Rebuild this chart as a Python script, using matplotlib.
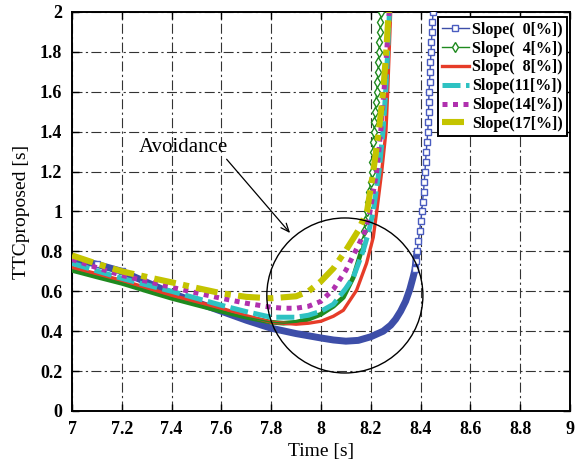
import matplotlib
matplotlib.use("Agg")
import matplotlib.pyplot as plt
from matplotlib.patches import Ellipse
import numpy as np

plt.rcParams['font.family'] = ['Liberation Serif', 'DejaVu Serif']

# ---- data: time [s] and TTC [s] per road slope ----
t_s0 = [7.00, 7.10, 7.20, 7.30, 7.40, 7.50, 7.60, 7.70, 7.80, 7.90, 8.00, 8.05,
        8.10, 8.15, 8.20, 8.25, 8.28, 8.30, 8.32, 8.34, 8.357, 8.37, 8.378,
        8.381, 8.386, 8.391, 8.396, 8.401, 8.405, 8.408, 8.412, 8.415, 8.418,
        8.420, 8.423, 8.426, 8.429, 8.431, 8.432, 8.433, 8.434, 8.436, 8.438,
        8.440, 8.442, 8.444, 8.446, 8.448, 8.450, 8.452]
v_s0 = [0.765, 0.735, 0.700, 0.645, 0.590, 0.545, 0.500, 0.455, 0.415, 0.388,
        0.366, 0.356, 0.350, 0.354, 0.372, 0.400, 0.430, 0.460, 0.500, 0.550,
        0.610, 0.670, 0.710,
        0.75, 0.80, 0.85, 0.90, 0.95, 1.00, 1.05, 1.10, 1.15, 1.20, 1.25, 1.30,
        1.35, 1.40, 1.45, 1.50, 1.55, 1.60, 1.65, 1.70, 1.75, 1.80, 1.85, 1.90,
        1.95, 2.00, 2.05]

t_s4 = [7.00, 7.10, 7.20, 7.30, 7.40, 7.50, 7.60, 7.70, 7.80, 7.85, 7.90, 7.95,
        8.00, 8.05, 8.09, 8.13, 8.163,
        8.167, 8.173, 8.178, 8.183, 8.189, 8.194, 8.199, 8.204, 8.206, 8.208,
        8.210, 8.212, 8.215, 8.218, 8.221, 8.224, 8.226, 8.229, 8.231, 8.233,
        8.235, 8.237, 8.239, 8.241, 8.243]
v_s4 = [0.705, 0.672, 0.640, 0.602, 0.565, 0.532, 0.500, 0.470, 0.445, 0.440,
        0.445, 0.460, 0.485, 0.525, 0.570, 0.670, 0.805,
        0.85, 0.90, 0.95, 1.00, 1.05, 1.10, 1.15, 1.20, 1.25, 1.30, 1.35, 1.40,
        1.45, 1.50, 1.55, 1.60, 1.65, 1.70, 1.75, 1.80, 1.85, 1.90, 1.95, 2.00,
        2.05]

t_s8 = [7.00, 7.10, 7.20, 7.30, 7.40, 7.50, 7.60, 7.70, 7.80, 7.90, 7.95, 8.00,
        8.05, 8.09, 8.143, 8.183, 8.21, 8.224, 8.244, 8.261, 8.268, 8.274,
        8.280, 8.284]
v_s8 = [0.720, 0.688, 0.655, 0.618, 0.580, 0.548, 0.515, 0.478, 0.445, 0.435,
        0.440, 0.450, 0.475, 0.505, 0.605, 0.740, 0.870, 1.00, 1.20, 1.40,
        1.60, 1.80, 2.00, 2.10]

t_s11 = [7.00, 7.10, 7.20, 7.30, 7.40, 7.50, 7.60, 7.70, 7.80, 7.90, 7.95, 8.00,
         8.05, 8.10, 8.13, 8.17, 8.19, 8.21, 8.233, 8.249, 8.26, 8.268, 8.275,
         8.280]
v_s11 = [0.740, 0.702, 0.665, 0.632, 0.600, 0.565, 0.530, 0.498, 0.470, 0.470,
         0.480, 0.500, 0.535, 0.615, 0.670, 0.805, 0.890, 1.00, 1.20, 1.40,
         1.60, 1.80, 2.00, 2.10]

t_s14 = [7.00, 7.10, 7.20, 7.30, 7.40, 7.50, 7.60, 7.70, 7.80, 7.85, 7.90, 7.95,
         8.00, 8.05, 8.10, 8.14, 8.177, 8.197, 8.224, 8.24, 8.253, 8.264,
         8.274, 8.280]
v_s14 = [0.760, 0.718, 0.680, 0.650, 0.620, 0.592, 0.565, 0.540, 0.520, 0.515,
         0.515, 0.525, 0.550, 0.610, 0.705, 0.805, 0.900, 1.00, 1.20, 1.40,
         1.60, 1.80, 2.00, 2.10]

t_s17 = [7.00, 7.10, 7.20, 7.30, 7.40, 7.50, 7.60, 7.70, 7.80, 7.90, 7.95, 8.00,
         8.05, 8.10, 8.15, 8.185, 8.21, 8.232, 8.25, 8.262, 8.272, 8.278]
v_s17 = [0.780, 0.738, 0.700, 0.672, 0.645, 0.617, 0.590, 0.572, 0.565, 0.575,
         0.600, 0.650, 0.715, 0.805, 0.905, 1.00, 1.20, 1.40, 1.60, 1.80,
         2.00, 2.10]

labels = ['Slope(  0[%])', 'Slope(  4[%])', 'Slope(  8[%])',
          'Slope(11[%])', 'Slope(14[%])', 'Slope(17[%])']

x_ticks = [7, 7.2, 7.4, 7.6, 7.8, 8, 8.2, 8.4, 8.6, 8.8, 9]
x_ticklabels = ['7', '7.2', '7.4', '7.6', '7.8', '8', '8.2', '8.4', '8.6', '8.8', '9']
y_ticks = [0, 0.2, 0.4, 0.6, 0.8, 1, 1.2, 1.4, 1.6, 1.8, 2]
y_ticklabels = ['0', '0.2', '0.4', '0.6', '0.8', '1', '1.2', '1.4', '1.6', '1.8', '2']

c_blue = '#3d4ea8'
c_green = '#1f8a1f'
c_red = '#e63c28'
c_cyan = '#2ec2c2'
c_purple = '#b030ae'
c_yellow = '#c4c400'

fig = plt.figure(figsize=(5.78, 4.68), dpi=100)
ax = fig.add_axes([0.1246, 0.1218, 0.8614, 0.8526])

t0 = np.array(t_s0); v0 = np.array(v_s0)
t4 = np.array(t_s4); v4 = np.array(v_s4)

# densely sampled stretch of the 0% and 4% runs renders as a solid band
band0 = v0 <= 0.80
ax.plot(t0[band0], v0[band0], color=c_blue, lw=5.0, solid_capstyle='round', zorder=2)
ax.plot(t0, v0, color=c_blue, lw=1.0, marker='s', ms=5.0, mfc='white',
        mec='#4a5cc0', mew=1.0, markevery=list(np.where(v0 >= 0.70)[0]),
        label=labels[0], zorder=3)

band4 = v4 <= 0.81
ax.plot(t4[band4], v4[band4], color=c_green, lw=3.4, solid_capstyle='round', zorder=4)

ax.plot(t_s8, v_s8, color=c_red, lw=2.4, label=labels[2], zorder=5)
ax.plot(t4, v4, color=c_green, lw=1.0, marker='d', ms=5.0, mfc='white',
        mec=c_green, mew=1.0, markevery=list(np.where(~band4)[0]),
        label=labels[1], zorder=6)
ax.plot(t_s11, v_s11, color=c_cyan, lw=3.6, ls=(0, (3.6, 1.1)), label=labels[3], zorder=7)
ax.plot(t_s14, v_s14, color=c_purple, lw=3.6, ls=(0, (1, 1.1)), label=labels[4], zorder=8)
ax.plot(t_s17, v_s17, color=c_yellow, lw=4.4, ls=(0, (3.6, 1.2, 1, 1.2)), label=labels[5], zorder=9)

# legend entries in slope order
h, l = ax.get_legend_handles_labels()
pairs = sorted(zip([labels.index(s) for s in l], h, l), key=lambda p: p[0])
h = [p[1] for p in pairs]; l = [p[2] for p in pairs]

ax.set_xlim(7, 9)
ax.set_ylim(0, 2)
ax.set_xticks(x_ticks)
ax.set_xticklabels(x_ticklabels)
ax.set_yticks(y_ticks)
ax.set_yticklabels(y_ticklabels)
for lab in ax.get_xticklabels() + ax.get_yticklabels():
    lab.set_fontweight('bold')
    lab.set_fontsize(13)
ax.tick_params(direction='in', length=5, width=1.0, top=True, right=True)
ax.tick_params(axis='x', pad=7)
ax.tick_params(axis='y', pad=7)
ax.grid(True, color='#333333', lw=0.8, ls=(0, (9, 3, 2, 3)))
for sp in ax.spines.values():
    sp.set_linewidth(1.4)

ax.set_xlabel('Time [s]', fontsize=14, labelpad=4)
ax.set_ylabel('TTCproposed [s]', fontsize=14, labelpad=7)

# highlighted avoidance region
ax.add_patch(Ellipse((8.096, 0.579), 0.627, 0.777, fill=False, ec='black', lw=1.0, zorder=10))
ax.text(7.448, 1.323, 'Avoidance', fontsize=15, ha='center', va='center', zorder=11)
ax.annotate('', xy=(7.876, 0.892), xytext=(7.621, 1.262), zorder=11,
            arrowprops=dict(arrowstyle='->,head_length=0.6,head_width=0.25',
                            color='black', lw=0.9, shrinkA=0, shrinkB=0))

leg = ax.legend(h, l, loc='upper right', bbox_to_anchor=(0.994, 0.987),
                borderaxespad=0, prop={'weight': 'bold', 'size': 11.5},
                handlelength=1.65, handletextpad=0.2, labelspacing=0.18,
                borderpad=0.28, numpoints=1, fancybox=False, framealpha=1,
                edgecolor='black')
leg.get_frame().set_linewidth(1.4)
leg.set_zorder(20)

fig.savefig('out.png', dpi=100)
